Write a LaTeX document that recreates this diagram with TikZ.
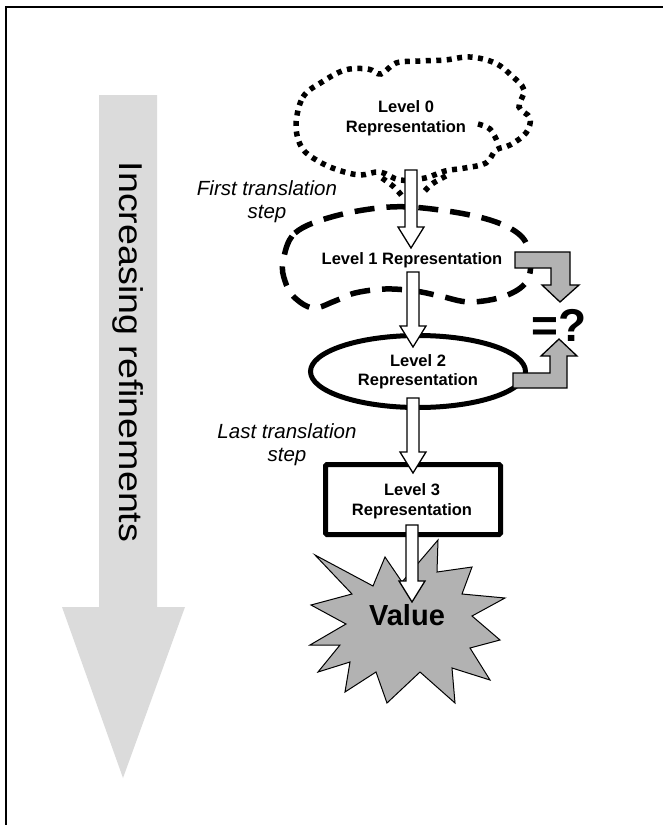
\documentclass[tikz,border=0pt]{standalone}
\usepackage{fontspec}
\setmainfont{Liberation Sans}
\usetikzlibrary{shapes.geometric,calc}

\definecolor{railgray}{gray}{0.86}
\definecolor{markgray}{gray}{0.70}

\tikzset{
  lvltext/.style={font=\fontsize{16.5}{19.5}\selectfont\bfseries, align=center, inner sep=0pt},
  steptext/.style={font=\fontsize{20.5}{23.5}\selectfont\itshape, align=center, inner sep=0pt},
  blockarrow/.style={draw=black, fill=white, line width=1.3pt, line join=miter},
  cmparrow/.style={draw=black, fill=markgray, line width=1.3pt, line join=miter},
  dotcloud/.style={line width=5.5pt, dash pattern=on 5pt off 5.5pt},
  dashcloud/.style={line width=5.5pt, dash pattern=on 20pt off 12pt},
}

% hollow downward block arrow from a start point to a tip point
\newcommand{\flowarrow}[2]{%
  \draw[blockarrow] let \p1=(#1), \p2=(#2) in
    (\x1-6pt,\y1) -- (\x1+6pt,\y1) -- (\x1+6pt,\y2+21pt) -- (\x1+13pt,\y2+21pt)
    -- (\x1,\y2) -- (\x1-13pt,\y2+21pt) -- (\x1-6pt,\y2+21pt) -- cycle;}

\begin{document}
\begin{tikzpicture}[x=1pt,y=-1pt]
\useasboundingbox (0,0) rectangle (663,825);
\draw[line width=2pt] (6,830) -- (6,6.7) -- (670,6.7);

% side arrow
\fill[railgray] (99,95) -- (157,95) -- (157,607) -- (185,607) -- (123,778)
  -- (62,607) -- (99,607) -- cycle;
\node[rotate=-90, inner sep=0pt, font=\fontsize{33}{33}\selectfont] (rail) at (128,352)
  {\scalebox{1.14}[1]{Increasing refinements}};

% level 0 cloud (dotted)
\draw[dotcloud] plot[smooth cycle, tension=0.6] coordinates {
  (296,125) (303,97) (322,82) (345,70) (368,69) (381,74) (396,63) (420,61)
  (445,60) (470,57) (495,63) (512,76) (524,90) (519,107) (530,118) (526,133)
  (510,145) (496,150) (486,163) (465,168) (445,171) (425,178) (400,180)
  (380,172) (360,175) (338,170) (318,161) (302,148)};
\draw[dotcloud] plot[smooth, tension=0.6] coordinates {(478,124) (490,129) (497,141)};
\draw[dotcloud] plot[smooth, tension=0.6] coordinates {(382,178) (394,187) (402,196)};
\draw[dotcloud] plot[smooth, tension=0.6] coordinates {(446,176) (432,184) (422,194)};

% level 1 cloud (dashed)
\draw[dashcloud] plot[smooth cycle, tension=0.6] coordinates {
  (283,262) (295,233) (335,216) (390,207) (440,210) (490,220) (520,235)
  (530,256) (527,281) (505,296) (470,302) (440,296) (415,291) (385,289)
  (355,293) (335,301) (313,308) (294,297) (285,281)};

% level nodes
\node[lvltext] (lvl0) at (406,118) {Level 0\\Representation};
\node[lvltext] (lvl1) at (412,260) {Level 1 Representation};
\node[ellipse, draw, line width=5pt, minimum width=215pt, minimum height=72pt,
  inner sep=0pt] (lvl2) at (418,371.5) {};
\node[lvltext] at (lvl2.center) {Level 2\\Representation};
\node[draw, line width=5pt, minimum width=175pt, minimum height=70pt,
  rounded corners=1.5pt, inner sep=0pt] (lvl3) at (413,499.5) {};
\node[lvltext] at (412,501) {Level 3\\Representation};

% value starburst
\filldraw[fill=markgray, draw=black, line width=1pt, line join=miter] (311,605)
  -- (352,594) -- (315,555) -- (373,586) -- (385,557) -- (402,582) -- (438,540)
  -- (437,572) -- (472,567) -- (462,594) -- (505,598) -- (472,616) -- (500,640)
  -- (470,648) -- (490,680) -- (452,668) -- (455,703) -- (420,672) -- (387,703)
  -- (376,672) -- (345,692) -- (350,662) -- (318,672) -- (340,645) -- (310,645)
  -- (346,624) -- cycle;

% translation step labels
\node[steptext] (first) at (267,201.5) {First translation\\step};
\node[steptext] (last) at (287,444.5) {Last translation\\step};

% arrow ends
\coordinate (a0s) at (411,170);  \coordinate (a0t) at (411,248);
\coordinate (a1s) at (413,272);  \coordinate (a1t) at (413,347);
\coordinate (a2s) at (413,398);  \coordinate (a2t) at (413,473);
\coordinate (a3s) at (412,525);  \coordinate (a3t) at (412,602);
\flowarrow{a0s}{a0t}
\flowarrow{a1s}{a1t}
\flowarrow{a2s}{a2t}
\flowarrow{a3s}{a3t}

\node[inner sep=0pt, font=\fontsize{29}{29}\selectfont\bfseries] (value) at (407,615) {Value};

% comparison arrows
\draw[cmparrow] (515,252) -- (570,252) -- (570,285) -- (579,285) -- (560,302)
  -- (542,285) -- (551,285) -- (551,268) -- (515,268) -- cycle;
\draw[cmparrow] (513,388) -- (567,388) -- (567,356) -- (577,356) -- (559,339)
  -- (541,356) -- (550,356) -- (550,373) -- (513,373) -- cycle;
\node[inner sep=0pt, font=\fontsize{46}{46}\selectfont\bfseries] (cmp) at (559,325) {=?};
\end{tikzpicture}
\end{document}
